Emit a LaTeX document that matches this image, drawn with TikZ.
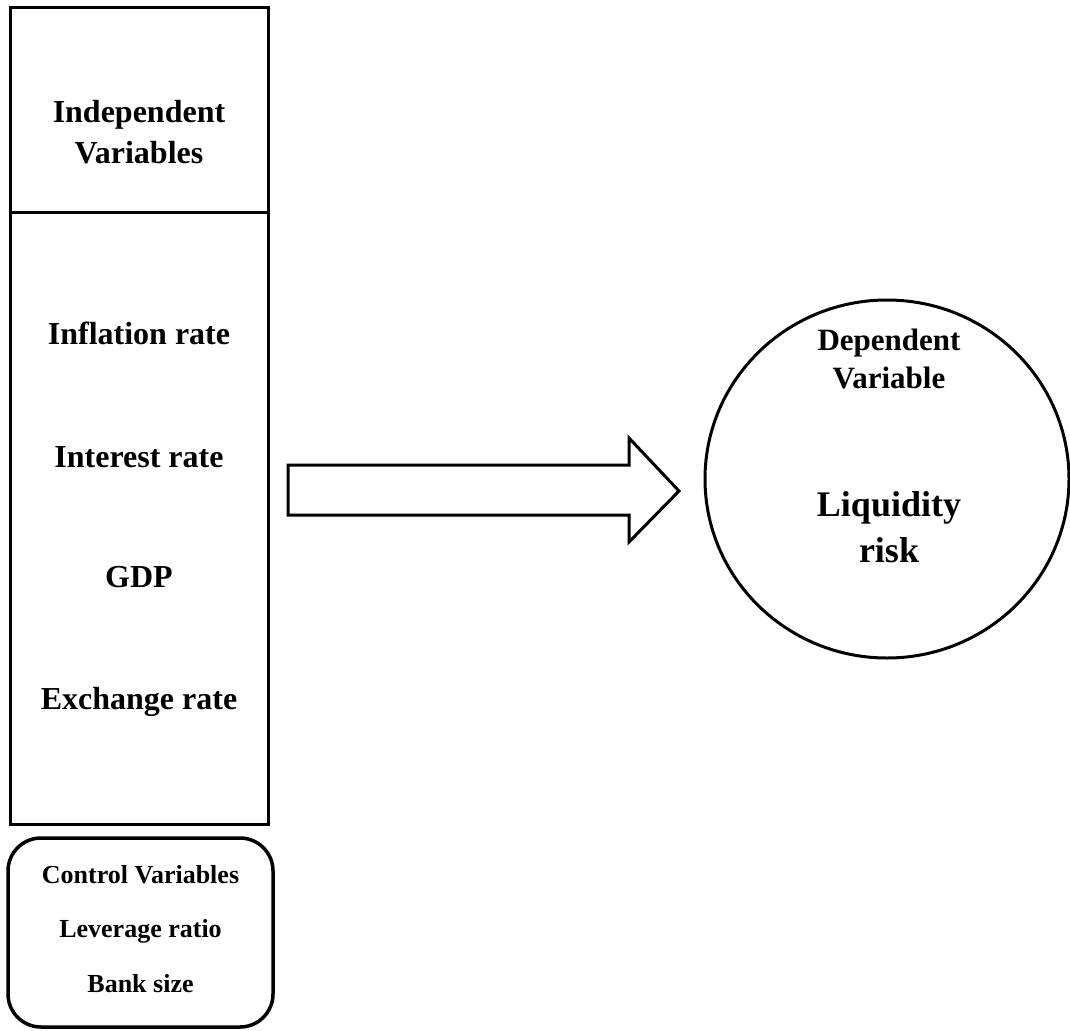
\documentclass[tikz,border=0pt]{standalone}
\usepackage{fontspec}
\setmainfont{Liberation Serif}
\usetikzlibrary{shapes.geometric}
\begin{document}
\begin{tikzpicture}[x=1pt,y=-1pt,
  frame/.style={draw=black, line width=3pt, inner sep=0pt},
  big/.style={anchor=base, inner sep=0pt, font=\fontsize{32}{38}\selectfont\bfseries},
  mid/.style={anchor=base, inner sep=0pt, font=\fontsize{31}{37}\selectfont\bfseries},
  huge/.style={anchor=base, inner sep=0pt, font=\fontsize{36}{42}\selectfont\bfseries},
  small/.style={anchor=base, inner sep=0pt, font=\fontsize{26}{31}\selectfont\bfseries}]
\useasboundingbox (0,0) rectangle (1070,1030);
% boxes
\node[frame, rectangle, minimum width=258pt, minimum height=204pt] (topbox) at (139,110) {};
\node[frame, rectangle, minimum width=258pt, minimum height=612pt] (lowbox) at (139,518) {};
\node[frame, rectangle, rounded corners=33pt, line width=3.5pt, minimum width=265pt, minimum height=189pt] (ctrlbox) at (140.5,932.5) {};
\node[frame, ellipse, minimum width=364pt, minimum height=358pt] (dep) at (887,479) {};
% texts
\node[big] (t1) at (139,123) {Independent};
\node[big] (t2) at (139,163) {Variables};
\node[big] (infl) at (139,344) {Inflation rate};
\node[big] (intr) at (139,467) {Interest rate};
\node[big] (gdp) at (139,587) {GDP};
\node[big] (exch) at (139,709) {Exchange rate};
\node[small] (c1) at (140.5,883) {Control Variables};
\node[small] (c2) at (140.5,937) {Leverage ratio};
\node[small] (c3) at (140.5,992) {Bank size};
\node[mid] (d1) at (889,350) {Dependent};
\node[mid] (d2) at (889,388) {Variable};
\node[huge] (d3) at (889,516) {Liquidity};
\node[huge] (d4) at (889,562) {risk};
% block arrow
\draw[line width=3pt, line join=miter]
  (288,465) -- (629,465) -- (629,438) -- (679,491) -- (629,542) -- (629,515) -- (288,515) -- cycle;
\end{tikzpicture}
\end{document}
